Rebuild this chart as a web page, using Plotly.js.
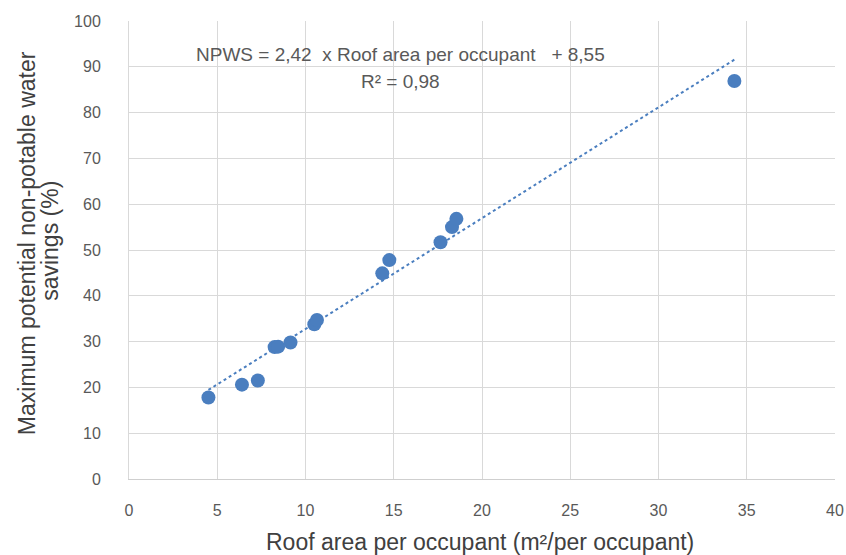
<!DOCTYPE html>
<html>
<head>
<meta charset="utf-8">
<script src="https://cdn.plot.ly/plotly-3.0.1.min.js"></script>
<style>html,body{margin:0;padding:0;background:#fff;}#chart{width:846px;height:555px;}</style>
</head>
<body>
<div id="chart"></div>
<script>
// Data
const roofArea = [4.5, 6.4, 7.3, 8.25, 8.45, 9.15, 10.5, 10.65, 14.35, 14.75, 17.65, 18.3, 18.55, 34.3];
const savings  = [17.8, 20.6, 21.5, 28.8, 28.9, 29.8, 33.8, 34.7, 44.9, 47.8, 51.7, 55.0, 56.8, 86.9];
// Trendline coefficients as printed on the chart
const slope = 2.42;
const intercept = 8.55;
const xTicks = [0, 5, 10, 15, 20, 25, 30, 35, 40];
const yTicks = [0, 10, 20, 30, 40, 50, 60, 70, 80, 90, 100];
const xTitle = 'Roof area per occupant (m²/per occupant)';
const yTitleLines = ['Maximum potential non-potable water', 'savings (%)'];
const eqText = 'NPWS = 2,42  x Roof area per occupant   + 8,55';
const r2Text = 'R² = 0,98';

const xMin = Math.min(...roofArea), xMax = Math.max(...roofArea);
const trendX = [xMin, xMax];
const trendY = trendX.map(v => slope * v + intercept);

const fontFam = '"Liberation Sans", Arial, sans-serif';
const blue = '#4a7ebf';

const traces = [
  {x: trendX, y: trendY, mode: 'lines', type: 'scatter',
   line: {color: blue, width: 2, dash: 'dot'}, hoverinfo: 'skip', showlegend: false},
  {x: roofArea, y: savings, mode: 'markers', type: 'scatter',
   marker: {color: blue, size: 14}, showlegend: false}
];

const layout = {
  width: 846, height: 555,
  margin: {l: 129, r: 11, t: 21, b: 76},
  paper_bgcolor: '#fff', plot_bgcolor: '#fff',
  font: {family: fontFam, color: '#595959', size: 16},
  xaxis: {range: [0, 40], tickvals: xTicks, ticktext: xTicks.map(String),
          showgrid: true, gridcolor: '#d9d9d9', gridwidth: 1, zeroline: false,
          showline: true, linecolor: '#cfcfcf',
          ticks: '', ticklabelstandoff: 17, tickfont: {size: 16, color: '#595959'}},
  yaxis: {range: [0, 100], tickvals: yTicks, ticktext: yTicks.map(String),
          showgrid: true, gridcolor: '#d9d9d9', gridwidth: 1, zeroline: false,
          showline: true, linecolor: '#d9d9d9',
          ticks: '', ticklabelstandoff: 24, tickfont: {size: 16, color: '#595959'}},
  annotations: [
    {xref: 'paper', yref: 'paper', x: 0.384, y: 0.926, xanchor: 'center', yanchor: 'middle',
     text: eqText, showarrow: false, font: {size: 19, color: '#595959'}},
    {xref: 'paper', yref: 'paper', x: 0.384, y: 0.867, xanchor: 'center', yanchor: 'middle',
     text: r2Text, showarrow: false, font: {size: 19, color: '#595959'}},
    {xref: 'paper', yref: 'paper', x: 0.497, y: 0, xanchor: 'center', yanchor: 'middle',
     yshift: -63, text: xTitle, showarrow: false, font: {size: 23, color: '#404040'}},
    {xref: 'paper', yref: 'paper', x: 0, y: 0.515, xanchor: 'center', yanchor: 'middle',
     xshift: -102, textangle: -90, text: yTitleLines[0], showarrow: false,
     font: {size: 23, color: '#404040'}},
    {xref: 'paper', yref: 'paper', x: 0, y: 0.52, xanchor: 'center', yanchor: 'middle',
     xshift: -79, textangle: -90, text: yTitleLines[1], showarrow: false,
     font: {size: 23, color: '#404040'}}
  ]
};

Plotly.newPlot('chart', traces, layout, {displayModeBar: false, staticPlot: true});
</script>
</body>
</html>
